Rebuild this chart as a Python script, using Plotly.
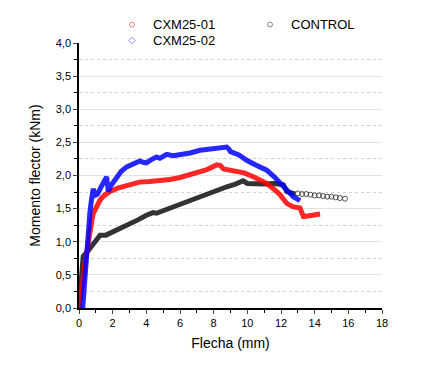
import plotly.graph_objects as go

# ---- data ----
cxm01_x = [0.0, 0.1, 0.2, 0.3, 0.36, 0.45, 0.55, 0.65, 0.75, 0.85, 1.0, 1.25, 1.5, 1.84, 2.3, 2.8, 3.23, 3.6, 4.2, 4.81, 5.4, 6.0, 6.4, 7.0, 7.6, 8.18, 8.4, 8.58, 9.17, 9.8, 10.36, 10.8, 11.15, 11.6, 11.94, 12.34, 12.7, 13.13, 13.25, 13.33, 13.6, 14.0, 14.32]
cxm01_y = [0.0, 0.15, 0.35, 0.55, 0.68, 0.85, 1.0, 1.15, 1.3, 1.43, 1.52, 1.63, 1.7, 1.76, 1.81, 1.84, 1.87, 1.9, 1.91, 1.92, 1.94, 1.97, 2.0, 2.04, 2.09, 2.16, 2.15, 2.1, 2.08, 2.04, 1.98, 1.93, 1.88, 1.79, 1.71, 1.58, 1.53, 1.51, 1.45, 1.38, 1.39, 1.4, 1.42]

cxm02_x = [0.22, 0.26, 0.3, 0.36, 0.45, 0.55, 0.65, 0.75, 0.85, 0.95, 1.1, 1.3, 1.5, 1.64, 1.7, 1.74, 1.9, 2.24, 2.5, 2.83, 3.2, 3.62, 3.8, 4.0, 4.3, 4.6, 4.8, 5.2, 5.6, 6.0, 6.6, 7.19, 7.8, 8.4, 8.78, 8.9, 9.0, 9.5, 9.96, 10.5, 11.15, 11.6, 12.14, 12.45, 12.73, 13.13]
cxm02_y = [0.0, 0.15, 0.35, 0.6, 0.9, 1.2, 1.45, 1.65, 1.8, 1.7, 1.72, 1.82, 1.92, 1.98, 1.85, 1.76, 1.85, 1.98, 2.06, 2.13, 2.18, 2.22, 2.2, 2.19, 2.24, 2.28, 2.26, 2.32, 2.3, 2.31, 2.34, 2.38, 2.4, 2.42, 2.43, 2.4, 2.36, 2.31, 2.23, 2.16, 2.08, 1.98, 1.83, 1.75, 1.68, 1.62]

ctrl_x = [0.0, 0.05, 0.1, 0.15, 0.2, 0.25, 0.5, 0.8, 1.05, 1.25, 1.6, 2.2, 2.83, 3.5, 4.0, 4.4, 4.6, 5.1, 5.6, 6.0, 6.6, 7.19, 8.0, 8.78, 9.3, 9.75, 10.0, 10.35, 11.0, 11.6, 12.14, 12.34, 12.6, 12.85]
ctrl_y = [0.0, 0.2, 0.4, 0.58, 0.7, 0.78, 0.85, 0.95, 1.05, 1.1, 1.1, 1.17, 1.24, 1.33, 1.4, 1.44, 1.43, 1.48, 1.52, 1.56, 1.62, 1.69, 1.76, 1.83, 1.87, 1.92, 1.88, 1.87, 1.87, 1.88, 1.86, 1.76, 1.73, 1.72]
ctrl_tail_x = [13.0, 13.25, 13.5, 13.75, 14.0, 14.25, 14.5, 14.75, 15.0, 15.25, 15.5, 15.8]
ctrl_tail_y = [1.73, 1.72, 1.72, 1.71, 1.70, 1.70, 1.69, 1.68, 1.68, 1.67, 1.66, 1.65]

x_ticks = [0, 2, 4, 6, 8, 10, 12, 14, 16, 18]

RED = "rgba(255,0,0,0.85)"
BLUE = "rgba(0,0,255,0.85)"
BLACK = "rgba(0,0,0,0.8)"

FONT = "Liberation Sans, Arial"

fig = go.Figure()

def dense(x, y, color, symbol):
    fig.add_trace(go.Scatter(x=x, y=y, mode="lines", line=dict(color=color, width=5),
                             hoverinfo="skip", showlegend=False))
    fig.add_trace(go.Scatter(x=x, y=y, mode="markers",
                             marker=dict(symbol=symbol, size=6, color="rgba(0,0,0,0)",
                                         line=dict(color=color, width=1)),
                             showlegend=False))

dense(ctrl_x, ctrl_y, BLACK, "circle-open")
fig.add_trace(go.Scatter(x=ctrl_tail_x, y=ctrl_tail_y, mode="markers",
                         marker=dict(symbol="circle-open", size=5, color="rgba(60,60,60,0.9)",
                                     line=dict(width=1)),
                         showlegend=False))
dense(cxm01_x, cxm01_y, RED, "circle-open")
dense(cxm02_x, cxm02_y, BLUE, "diamond-open")

# page body has an 8px margin: the figure is shifted by 8px, so shrink it accordingly
OFF = 8
W, H = 444 - OFF, 370 - OFF
# plot area in window pixels: x 79..382, y 42.5..308.5
PX0, PX1, PY0, PY1 = 79, 382, 42.5, 308.5
L, R, T, B = PX0 - OFF, 444 - PX1, PY0 - OFF, 370 - PY1

def to_paper(px, py):
    return (px - PX0) / (PX1 - PX0), (PY1 - py) / (PY1 - PY0)

# manual legend
leg = [(132, 24, "circle", "rgba(255,0,0,0.45)", "CXM25-01"),
       (132, 40, "diamond", "rgba(0,0,255,0.45)", "CXM25-02"),
       (270, 24, "circle", "rgba(0,0,0,0.45)", "CONTROL")]
for px, py, sym, col, name in leg:
    ax, ay = to_paper(px, py)
    if sym == "circle":
        fig.add_shape(type="circle", xref="paper", yref="paper", xsizemode="pixel", ysizemode="pixel",
                      xanchor=ax, yanchor=ay, x0=-2.5, x1=2.5, y0=-2.5, y1=2.5,
                      line=dict(color=col, width=1))
    else:
        fig.add_shape(type="path", xref="paper", yref="paper", xsizemode="pixel", ysizemode="pixel",
                      xanchor=ax, yanchor=ay, path="M 0 3.2 L 3.2 0 L 0 -3.2 L -3.2 0 Z",
                      line=dict(color=col, width=1))
    tx, ty = to_paper(px + 19, py)
    fig.add_annotation(x=tx, y=ty, xref="paper", yref="paper", text=name, showarrow=False,
                       xanchor="left", yanchor="middle",
                       font=dict(family=FONT, size=13, color="black"))

fig.update_layout(
    width=W, height=H,
    margin=dict(l=L, r=R, t=T, b=B, autoexpand=False),
    paper_bgcolor="white", plot_bgcolor="white",
    separators=",.",
    showlegend=False,
    font=dict(family=FONT, color="black"),
    xaxis=dict(range=[0, 18], tickvals=x_ticks, ticks="outside", ticklen=4, tickwidth=1.2,
               showline=True, linecolor="black", linewidth=1.5, showgrid=False, zeroline=False,
               tickfont=dict(size=11),
               minor=dict(dtick=1, ticks="outside", ticklen=3, tickcolor="black", showgrid=False),
               title=dict(text="Flecha (mm)", font=dict(size=14), standoff=10)),
    yaxis=dict(range=[0, 4], dtick=0.5, tickformat=".1f", ticks="outside", ticklen=4, tickwidth=1.2,
               showline=True, linecolor="black", linewidth=1.5, showgrid=True, gridcolor="#e3e3e3",
               gridwidth=1, zeroline=False, tickfont=dict(size=11),
               minor=dict(dtick=0.25, ticks="outside", ticklen=3, tickcolor="black", showgrid=True,
                          gridcolor="#d0d0d0", griddash="dot", gridwidth=1),
               title=dict(text="Momento flector (kNm)", font=dict(size=14), standoff=12)),
)

fig.write_html("out.html")
